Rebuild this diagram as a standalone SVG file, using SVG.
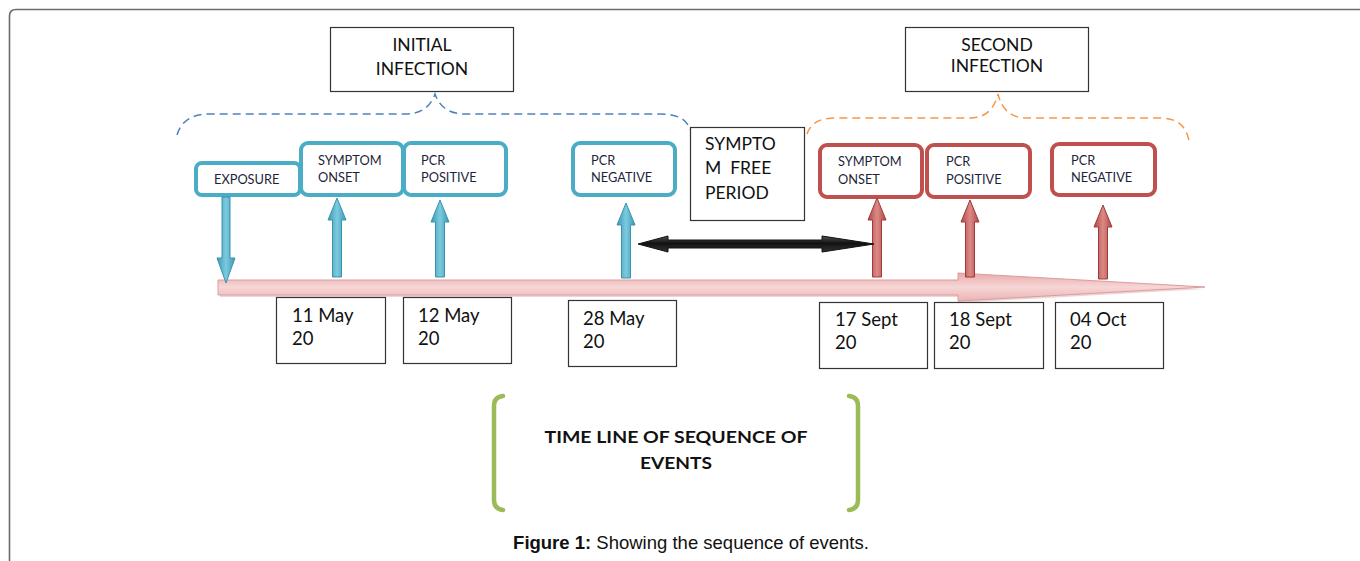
<svg xmlns="http://www.w3.org/2000/svg" width="1360" height="561" viewBox="0 0 1360 561">
  <defs>
    <linearGradient id="blueShaft" x1="0" y1="0" x2="1" y2="0">
      <stop offset="0" stop-color="#3c98b3"/>
      <stop offset="0.5" stop-color="#7ccbe0"/>
      <stop offset="1" stop-color="#3c98b3"/>
    </linearGradient>
    <linearGradient id="redShaft" x1="0" y1="0" x2="1" y2="0">
      <stop offset="0" stop-color="#b04845"/>
      <stop offset="0.5" stop-color="#dc8a87"/>
      <stop offset="1" stop-color="#b04845"/>
    </linearGradient>
    <linearGradient id="timeBand" x1="0" y1="0" x2="0" y2="1">
      <stop offset="0" stop-color="#e9a9a9"/>
      <stop offset="0.5" stop-color="#f6d6d6"/>
      <stop offset="1" stop-color="#ebb3b3"/>
    </linearGradient>
    <linearGradient id="blackArrow" x1="0" y1="0" x2="0" y2="1">
      <stop offset="0" stop-color="#555"/>
      <stop offset="0.45" stop-color="#111"/>
      <stop offset="1" stop-color="#333"/>
    </linearGradient>
  </defs>
  <style>
    .frame { fill: none; stroke: #6b6b6b; stroke-width: 1.6; }
    .box { fill: #fff; stroke: #333; stroke-width: 1.2; }
    .blueBox { fill: #fff; stroke: #4bacc6; stroke-width: 4; }
    .redBox { fill: #fff; stroke: #c0504d; stroke-width: 4; }
    .small { font-family: Lato, "Open Sans", "Liberation Sans", sans-serif; font-size: 12.8px; fill: #1f1f3a; }
    .big { font-family: Lato, "Open Sans", "Liberation Sans", sans-serif; font-size: 17.5px; fill: #111; }
    .date { font-family: Lato, "Open Sans", "Liberation Sans", sans-serif; font-size: 18.5px; fill: #111; }
    .title { font-family: Lato, "Open Sans", "Liberation Sans", sans-serif; font-size: 17px; font-weight: bold; fill: #111; }
    .caption { font-family: "Liberation Sans", Arial, sans-serif; font-size: 18.5px; fill: #111; }
    .blueArrow { fill: url(#blueShaft); stroke: #3b93ad; stroke-width: 1; }
    .redArrow { fill: url(#redShaft); stroke: #9e3b39; stroke-width: 1; }
    .braceBlue { fill: none; stroke: #4f81bd; stroke-width: 1.5; stroke-dasharray: 8 5; }
    .braceOrange { fill: none; stroke: #f79646; stroke-width: 1.5; stroke-dasharray: 8 5; }
    .bracket { fill: none; stroke: #9bbb59; stroke-width: 4.5; stroke-linecap: round; }
  </style>

  <!-- outer frame -->
  <path class="frame" d="M9.5,561 V16 Q9.5,9.5 16,9.5 H1360"/>

  <!-- phase labels -->
  <g id="initial-infection">
    <rect class="box" x="330.5" y="27.5" width="183" height="64"/>
    <text class="big" x="422" y="51" text-anchor="middle">INITIAL</text>
    <text class="big" x="422" y="75" text-anchor="middle">INFECTION</text>
  </g>
  <g id="second-infection">
    <rect class="box" x="905.5" y="27.5" width="183" height="64"/>
    <text class="big" x="997" y="51" text-anchor="middle">SECOND</text>
    <text class="big" x="997" y="72" text-anchor="middle">INFECTION</text>
  </g>

  <!-- dashed braces -->
  <g id="braces">
    <path class="braceBlue" d="M177,135 Q183,114 210,114 H405 Q428,114 435,94 Q442,114 465,114 H660 Q686,114 690,130"/>
    <path class="braceOrange" d="M807,134 Q812,118 835,118 H970 Q992,118 998,94 Q1004,118 1026,118 H1160 Q1185,118 1189,141"/>
  </g>

  <!-- timeline band -->
  <g id="timeline">
    <path d="M220,282 H958 V275 L1205,289 L958,303 V297 H220 Z" fill="#c98a8a" opacity="0.35"/>
    <path d="M218,280 H958 V273 L1205,287 L958,301 V295 H218 Z" fill="url(#timeBand)" stroke="#dc9c9c" stroke-width="1"/>
  </g>

  <!-- event boxes: first infection -->
  <g id="exposure">
    <rect class="blueBox" x="196" y="163" width="104" height="32" rx="6"/>
    <text class="small" x="214" y="184">EXPOSURE</text>
  </g>
  <g id="symptom-onset-1">
    <rect class="blueBox" x="301" y="143" width="102" height="52" rx="7"/>
    <text class="small" x="318" y="165">SYMPTOM</text>
    <text class="small" x="318" y="182">ONSET</text>
  </g>
  <g id="pcr-positive-1">
    <rect class="blueBox" x="404" y="143" width="102" height="52" rx="7"/>
    <text class="small" x="421" y="165">PCR</text>
    <text class="small" x="421" y="182">POSITIVE</text>
  </g>
  <g id="pcr-negative-1">
    <rect class="blueBox" x="573" y="143" width="102" height="52" rx="7"/>
    <text class="small" x="591" y="165">PCR</text>
    <text class="small" x="591" y="182">NEGATIVE</text>
  </g>

  <!-- symptom free period -->
  <g id="symptom-free">
    <rect class="box" x="690.5" y="127.5" width="114" height="93"/>
    <text class="big" x="705" y="150">SYMPTO</text>
    <text class="big" x="705" y="174" xml:space="preserve">M  FREE</text>
    <text class="big" x="705" y="199">PERIOD</text>
  </g>

  <!-- event boxes: second infection -->
  <g id="symptom-onset-2">
    <rect class="redBox" x="820" y="145" width="102" height="52" rx="7"/>
    <text class="small" x="838" y="166">SYMPTOM</text>
    <text class="small" x="838" y="184">ONSET</text>
  </g>
  <g id="pcr-positive-2">
    <rect class="redBox" x="927" y="145" width="103" height="52" rx="7"/>
    <text class="small" x="946" y="166">PCR</text>
    <text class="small" x="946" y="184">POSITIVE</text>
  </g>
  <g id="pcr-negative-2">
    <rect class="redBox" x="1052" y="144" width="103" height="51" rx="7"/>
    <text class="small" x="1071" y="165">PCR</text>
    <text class="small" x="1071" y="182">NEGATIVE</text>
  </g>

  <!-- connectors -->
  <g id="connectors">
    <path class="blueArrow" d="M222,197 H230 V258 H235 L226,283 L217,258 H222 Z"/>
    <path class="blueArrow" d="M332.5,277 V220 H328 L337,198 L346,220 H341.5 V277 Z"/>
    <path class="blueArrow" d="M435.5,277 V222 H431 L440,200 L449,222 H444.5 V277 Z"/>
    <path class="blueArrow" d="M621.5,278 V225 H617 L626,203 L635,225 H630.5 V278 Z"/>
    <path class="redArrow" d="M872.5,277 V220 H868 L877,198 L886,220 H881.5 V277 Z"/>
    <path class="redArrow" d="M965.5,277 V222 H961 L970,200 L979,222 H974.5 V277 Z"/>
    <path class="redArrow" d="M1098.5,279 V227 H1094 L1103,205 L1112,227 H1107.5 V279 Z"/>
    <path d="M638,244 L668,236 V240 H822 V236 L874,244 L822,252 V248 H668 V252 Z" fill="url(#blackArrow)" stroke="#111" stroke-width="1"/>
  </g>

  <!-- dates -->
  <g id="date-11may">
    <rect class="box" x="276.5" y="297.5" width="109" height="66"/>
    <text class="date" x="292" y="322">11 May</text>
    <text class="date" x="292" y="345">20</text>
  </g>
  <g id="date-12may">
    <rect class="box" x="403.5" y="297.5" width="108" height="66"/>
    <text class="date" x="418" y="322">12 May</text>
    <text class="date" x="418" y="345">20</text>
  </g>
  <g id="date-28may">
    <rect class="box" x="568.5" y="300.5" width="108" height="66"/>
    <text class="date" x="583" y="325">28 May</text>
    <text class="date" x="583" y="348">20</text>
  </g>
  <g id="date-17sept">
    <rect class="box" x="819.5" y="302.5" width="108" height="66"/>
    <text class="date" x="835" y="326">17 Sept</text>
    <text class="date" x="835" y="349">20</text>
  </g>
  <g id="date-18sept">
    <rect class="box" x="934.5" y="302.5" width="109" height="66"/>
    <text class="date" x="949" y="326">18 Sept</text>
    <text class="date" x="949" y="349">20</text>
  </g>
  <g id="date-04oct">
    <rect class="box" x="1055.5" y="302.5" width="108" height="66"/>
    <text class="date" x="1070" y="326">04 Oct</text>
    <text class="date" x="1070" y="349">20</text>
  </g>

  <!-- title bracket -->
  <g id="timeline-title">
    <path class="bracket" d="M503,396 Q494,397 494,406 V500 Q494,509 503,510"/>
    <path class="bracket" d="M849,396 Q858,397 858,406 V500 Q858,509 849,510"/>
    <text class="title" x="676" y="443" text-anchor="middle" textLength="263" lengthAdjust="spacingAndGlyphs">TIME LINE OF SEQUENCE OF</text>
    <text class="title" x="676" y="469" text-anchor="middle" textLength="72" lengthAdjust="spacingAndGlyphs">EVENTS</text>
  </g>

  <!-- caption -->
  <text class="caption" x="691" y="549" text-anchor="middle"><tspan font-weight="bold">Figure 1:</tspan> Showing the sequence of events.</text>
</svg>
